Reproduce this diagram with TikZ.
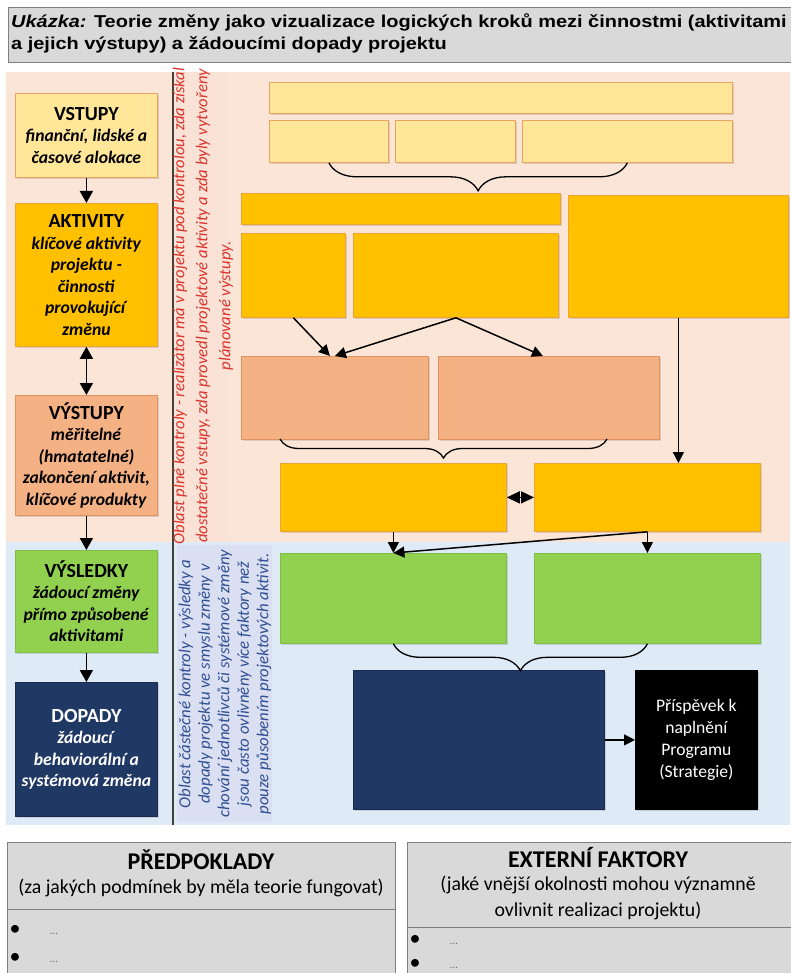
\documentclass[tikz,border=0pt]{standalone}
\usepackage{fontspec}
\setmainfont{Carlito}
\newfontfamily\arialfont[FakeStretch=1.16]{Liberation Sans}
\usetikzlibrary{arrows.meta,decorations.pathreplacing,shadows}

\definecolor{peachband}{HTML}{FBE5D6}
\definecolor{peachstripe}{HTML}{FAE2D7}
\definecolor{blueband}{HTML}{DEEBF7}
\definecolor{bluestripe}{HTML}{DADFF2}
\definecolor{inyellow}{HTML}{FFE699}
\definecolor{inborder}{HTML}{E9A45E}
\definecolor{gold}{HTML}{FFC000}
\definecolor{goldborder}{HTML}{EFA534}
\definecolor{peach}{HTML}{F4B183}
\definecolor{peachborder}{HTML}{E2925C}
\definecolor{lgreen}{HTML}{92D050}
\definecolor{greenborder}{HTML}{7FBF45}
\definecolor{navy}{HTML}{203864}
\definecolor{panelgrey}{HTML}{D9D9D9}
\definecolor{panelborder}{HTML}{7F7F7F}
\definecolor{ctrlred}{HTML}{D9352C}
\definecolor{ctrlblue}{HTML}{2F4F93}

\begin{document}
\begin{tikzpicture}[x=1pt, y=-1pt,
    box/.style={draw, anchor=north west, inner sep=0pt, line width=0.8pt,
        drop shadow={shadow xshift=1.5pt, shadow yshift=-1.5pt, fill=black, opacity=0.12}},
    inbox/.style={box, fill=inyellow, draw=inborder},
    akbox/.style={box, fill=gold, draw=goldborder},
    outbox/.style={box, fill=peach, draw=peachborder},
    resbox/.style={box, fill=lgreen, draw=greenborder},
    impbox/.style={box, fill=navy, draw=navy!80!black},
    stage/.style={align=center, font=\bfseries\fontsize{17.6}{21.5}\selectfont, minimum width=142},
    panel/.style={draw=panelborder, fill=panelgrey, anchor=north west, inner sep=0pt, line width=0.8pt},
    arr/.style={-{Triangle[length=11pt,width=11pt]}, line width=1.5pt},
    bigarr/.style={-{Triangle[length=12pt,width=13pt]}, line width=1.7pt},
    twoarr/.style={{Triangle[length=12pt,width=13pt]}-{Triangle[length=12pt,width=13pt]}, line width=1.7pt},
    curly/.style={decorate, decoration={brace, mirror, amplitude=#1}, line width=1.3pt},
    dot/.style={font=\fontsize{22}{22}\selectfont, inner sep=0pt},
    more/.style={font=\fontsize{11}{11}\selectfont, text=black!55, inner sep=0pt}]

    \useasboundingbox (0,0) rectangle (790,973);

    % nadpis
    \node[panel, minimum width=800, minimum height=55] (title) at (8,7) {};
    \node[anchor=north west, align=left, inner sep=0pt,
        font=\arialfont\bfseries\fontsize{17.2}{22}\selectfont] (titletext) at (11,13)
        {\textit{Ukázka:} Teorie změny jako vizualizace logických kroků mezi činnostmi (aktivitami\\
         a jejich výstupy) a žádoucími dopady projektu};

    % oblasti kontroly
    \fill[peachband] (6,72) rectangle (790,542);
    \fill[peachstripe] (176,72) rectangle (229,542);
    \fill[blueband] (6,542) rectangle (790,825);
    \fill[bluestripe] (177,545) rectangle (272,822);
    \draw[line width=1.6pt, black!75] (173,72) -- (173,825);

    \node[rotate=90, align=center, text=ctrlred,
        font=\itshape\fontsize{16.6}{23}\selectfont] (fullctrl) at (203,306)
        {Oblast plné kontroly - realizátor má v projektu pod kontrolou, zda získal\\
         dostatečné vstupy, zda provedl projektové aktivity a zda byly vytvořeny\\
         plánované výstupy.};
    \node[rotate=90, align=center, text=ctrlblue,
        font=\itshape\fontsize{16.8}{19.5}\selectfont] (partctrl) at (225,684)
        {Oblast částečné kontroly - výsledky a\\
         dopady projektu ve smyslu změny v\\
         chování jednotlivců či systémové změny\\
         jsou často ovlivněny více faktory než\\
         pouze působením projektových aktivit.};

    % levy sloupec
    \node[inbox, stage, minimum height=84] (vstupy) at (15,93)
        {{\fontsize{20}{22}\selectfont VSTUPY}\\ \textit{finanční, lidské a}\\ \textit{časové alokace}};
    \node[akbox, stage, minimum height=143] (aktivity) at (15,203)
        {{\fontsize{20}{22}\selectfont AKTIVITY}\\ \textit{klíčové aktivity}\\ \textit{projektu -}\\
         \textit{činnosti}\\ \textit{provokující}\\ \textit{změnu}};
    \node[outbox, stage, minimum height=120] (vystupy) at (15,395)
        {{\fontsize{20}{22}\selectfont VÝSTUPY}\\ \textit{měřitelné}\\ \textit{(hmatatelné)}\\
         \textit{zakončení aktivit,}\\ \textit{klíčové produkty}};
    \node[resbox, stage, minimum height=102] (vysledky) at (15,550)
        {{\fontsize{20}{22}\selectfont VÝSLEDKY}\\ \textit{žádoucí změny}\\ \textit{přímo způsobené}\\
         \textit{aktivitami}};
    \node[impbox, stage, text=white, minimum height=134] (dopady) at (15,682)
        {{\fontsize{20}{22}\selectfont DOPADY}\\ \textit{žádoucí}\\ \textit{behaviorální a}\\
         \textit{systémová změna}};

    \draw[bigarr] (vstupy) -- (aktivity);
    \draw[twoarr] (aktivity) -- (vystupy);
    \draw[bigarr] (vystupy) -- (vysledky);
    \draw[bigarr] (vysledky) -- (dopady);

    % vstupy
    \node[inbox, minimum width=463, minimum height=31] (in0) at (269,82) {};
    \node[inbox, minimum width=119, minimum height=42] (in1) at (269,120) {};
    \node[inbox, minimum width=120, minimum height=42] (in2) at (395,120) {};
    \node[inbox, minimum width=210, minimum height=42] (in3) at (522,120) {};

    % aktivity
    \node[akbox, minimum width=319, minimum height=31] (ak0) at (241,193) {};
    \node[akbox, minimum width=104, minimum height=84] (ak1) at (241,233) {};
    \node[akbox, minimum width=205, minimum height=84] (ak2) at (353,233) {};
    \node[akbox, minimum width=220, minimum height=122] (ak3) at (568,195) {};

    % vystupy
    \node[outbox, minimum width=187, minimum height=83] (out1) at (241,356) {};
    \node[outbox, minimum width=221, minimum height=83] (out2) at (438,356) {};

    \node[akbox, minimum width=226, minimum height=68] (ak4) at (280,463) {};
    \node[akbox, minimum width=226, minimum height=68] (ak5) at (534,463) {};

    % vysledky a dopady
    \node[resbox, minimum width=226, minimum height=90] (res1) at (280,553) {};
    \node[resbox, minimum width=226, minimum height=90] (res2) at (534,553) {};
    \node[impbox, minimum width=251, minimum height=139] (imp) at (353,670) {};
    \node[box, fill=black, draw=black, minimum width=122, minimum height=139, align=center,
        text=white, font=\fontsize{17.6}{22}\selectfont] (program) at (635,670)
        {Příspěvek k\\ naplnění\\ Programu\\ (Strategie)};

    \coordinate (ob1) at (280,439);
    \coordinate (ob2) at (607,439);
    \draw[curly=28] (in1.south) -- (in3.south);
    \draw[curly=19] (ob1) -- (ob2);
    \draw[curly=27] (res1.south) -- (res2.south);

    \draw[arr] (ak1.south) -- ([xshift=-5]out1.north);
    \draw[arr] (ak2.south) -- (out1.north);
    \draw[arr] (ak2.south) -- ([xshift=-6]out2.north);
    \draw[arr] (ak3.south) -- (ak3.south |- ak5.north);
    \draw[line width=1.5pt, {Triangle[length=13pt,width=12pt]}-{Triangle[length=13pt,width=12pt]}] (ak4) -- (ak5);
    \draw[arr] (ak4.south) -- (res1.north);
    \draw[arr] (ak5.south) -- (res2.north);
    \draw[arr] (ak5.south) -- (res1.north);
    \draw[arr] (imp) -- (program);

    % predpoklady a externi faktory
    \node[panel, minimum width=388, minimum height=67] (hyp) at (7,842) {};
    \node[panel, minimum width=388, minimum height=70] (hyplist) at (7,909) {};
    \node[panel, minimum width=390, minimum height=85] (ext) at (407,842) {};
    \node[panel, minimum width=390, minimum height=60] (extlist) at (407,927) {};

    \node[font=\bfseries\fontsize{24}{26}\selectfont] (hyptitle) at (201,860) {PŘEDPOKLADY};
    \node[font=\fontsize{19.8}{22}\selectfont] (hypsub) at (201,888) {(za jakých podmínek by měla teorie fungovat)};
    \node[font=\bfseries\fontsize{24}{26}\selectfont] (exttitle) at (598,857) {EXTERNÍ FAKTORY};
    \node[align=center, font=\fontsize{19.8}{26}\selectfont] (extsub) at (598,898)
        {(jaké vnější okolnosti mohou významně\\ ovlivnit realizaci projektu)};

    \node[dot] (h1) at (15,930) {•};
    \node[more] at (54,934) {…};
    \node[dot] (h2) at (15,958) {•};
    \node[more] at (54,962) {…};
    \node[dot] (e1) at (415,940) {•};
    \node[more] at (454,944) {…};
    \node[dot] (e2) at (415,964) {•};
    \node[more] at (454,968) {…};
\end{tikzpicture}
\end{document}
